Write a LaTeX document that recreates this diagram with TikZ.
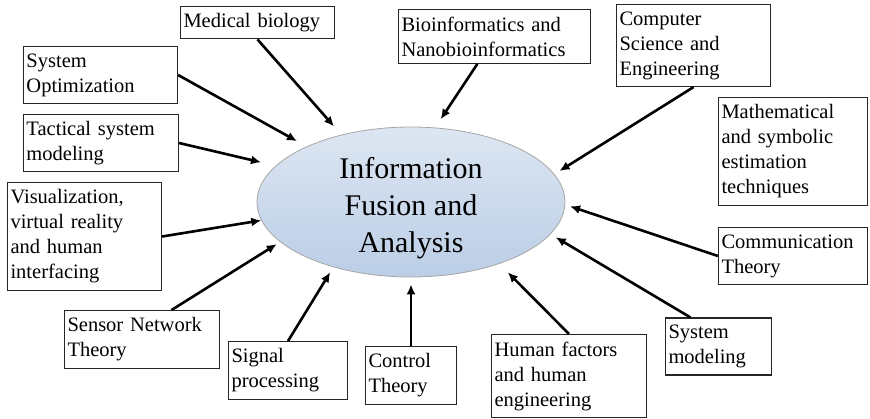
\documentclass[tikz,border=0pt]{standalone}
\usepackage{fontspec}
\setmainfont{Liberation Serif}
\usetikzlibrary{shapes.geometric}
\usetikzlibrary{arrows.meta}

\definecolor{fusionlight}{RGB}{221,230,242}
\definecolor{fusionblue}{RGB}{187,206,230}

\begin{document}
\begin{tikzpicture}[x=1pt, y=-1pt, >={Latex[length=10pt,width=9pt]},
    area/.style={draw=black!85, line width=1.2pt, align=left, inner xsep=3pt, inner ysep=7pt, text width=#1, font=\fontsize{20.5}{25}\selectfont},
    feed/.style={->, line width=2.6pt}]
    \useasboundingbox (0,0) rectangle (870,418);
    % - Centre ellipse
    \node[ellipse, minimum width=308pt, minimum height=150pt, inner sep=0pt, draw=gray!70, line width=0.8pt, top color=fusionlight, bottom color=fusionblue, align=center, font=\fontsize{30}{37}\selectfont] (info) at (411,202) {\rule{0pt}{26.5pt}Information\\Fusion and\\\raisebox{0pt}[\height][0pt]{Analysis}};
    % - Fields round it
    \node[area=148pt] (medbio) at (257.5,22.5) {Medical biology};
    \node[area=148pt] (sysopt) at (100.5,75) {System\\Optimization};
    \node[area=149pt] (tactical) at (101,143) {Tactical system\\modeling};
    \node[area=148pt] (visual) at (84.5,236.5) {Visualization,\\virtual reality\\and human\\interfacing};
    \node[area=149pt] (sensor) at (142,339.5) {Sensor Network\\Theory};
    \node[area=113pt] (signal) at (288,370.5) {Signal\\processing};
    \node[area=85pt] (control) at (411,375.5) {Control\\Theory};
    \node[area=149pt] (human) at (569,376) {Human factors\\and human\\engineering};
    \node[area=100pt] (sysmodel) at (718.5,346.5) {System\\modeling};
    \node[area=143pt] (comm) at (793,256) {Communication\\Theory};
    \node[area=143pt] (math) at (793,151.5) {Mathematical\\and symbolic\\estimation\\techniques};
    \node[area=148pt] (compsci) at (693.5,45.5) {Computer\\Science and\\Engineering};
    \node[area=186pt] (bioinf) at (494.5,36.5) {Bioinformatics and\\Nanobioinformatics};
    % - Arrows into the ellipse
    \draw[feed, shorten >=11pt] (medbio.south) -- (info.136.8);
    \draw[feed, shorten >=11pt] (sysopt.east) -- (info.152.1);
    \draw[feed, shorten >=15pt] (tactical.east) -- (info.165.8);
    \draw[feed] (visual.east) -- (info.187.7);
    \draw[feed, shorten >=4pt] (sensor.45) -- (info.197);
    \draw[feed, shorten >=6pt] (signal.north) -- (info.220.7);
    \draw[feed, shorten >=7pt] (control.north) -- (info.270);
    \draw[feed, shorten >=12pt] (human.north) -- (info.-35.2);
    \draw[feed, shorten >=6pt] (sysmodel.134) -- (info.-13.1);
    \draw[feed, shorten >=5pt] (comm.west) -- (info.-1.6);
    \draw[feed, shorten >=6pt] (compsci.south) -- (info.11.5);
    \draw[feed, shorten >=10pt] (bioinf.238) -- (info.72.5);
\end{tikzpicture}
\end{document}
